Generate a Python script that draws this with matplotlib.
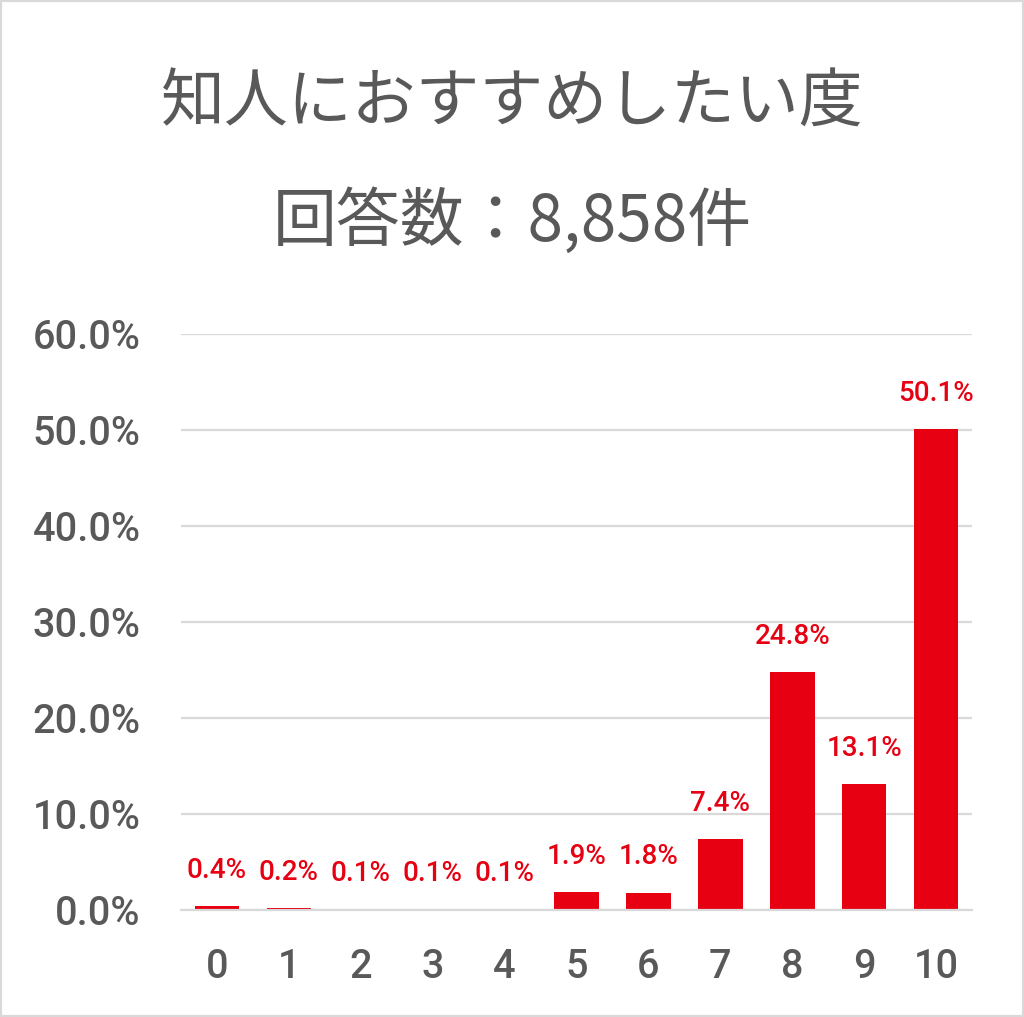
import matplotlib.pyplot as plt
from matplotlib.patches import Rectangle

# data
scores = ['0', '1', '2', '3', '4', '5', '6', '7', '8', '9', '10']
shares = [0.4, 0.2, 0.1, 0.1, 0.1, 1.9, 1.8, 7.4, 24.8, 13.1, 50.1]
yticks = [0, 10, 20, 30, 40, 50, 60]
title_1 = '知人におすすめしたい度'
title_2 = '回答数：8,858件'

RED = '#e60012'
GREY_TXT = '#595959'
GRID = '#d9d9d9'

plt.rcParams['font.family'] = ['Roboto', 'Noto Sans CJK JP', 'DejaVu Sans']

fig = plt.figure(figsize=(10.24, 10.17), dpi=100)
ax = fig.add_axes([181 / 1024, 1 - 910 / 1017, (972 - 181) / 1024, (910 - 334) / 1017])

x = range(len(scores))
bars = ax.bar(x, shares, width=0.62, color=RED, zorder=3)
for b, v in zip(bars, shares):
    ax.annotate(f'{v:.1f}%', (b.get_x() + b.get_width() / 2, b.get_height()),
                xytext=(0, 16), textcoords='offset points', ha='center', va='bottom',
                color=RED, fontsize=20, fontweight='medium')

ax.set_xlim(-0.5, len(scores) - 0.5)
ax.set_ylim(0, 60)
ax.set_yticks(yticks)
ax.set_yticklabels([f'{t:.1f}%' for t in yticks])
ax.set_xticks(list(x))
ax.set_xticklabels(scores)
ax.tick_params(axis='y', length=0, pad=29, labelsize=28.5, labelcolor=GREY_TXT)
ax.tick_params(axis='x', length=0, pad=27, labelsize=28.5, labelcolor=GREY_TXT)
for lab in ax.get_xticklabels() + ax.get_yticklabels():
    lab.set_fontweight('medium')
ax.grid(axis='y', color=GRID, linewidth=1.6, zorder=0)
for side in ['top', 'right', 'left']:
    ax.spines[side].set_visible(False)
ax.spines['bottom'].set_color(GRID)
ax.spines['bottom'].set_linewidth(1.6)
ax.spines['bottom'].set_zorder(4)

fig.text(0.5, 1 - 103 / 1017, title_1, ha='center', va='center', fontsize=46,
         color=GREY_TXT, family=['Noto Sans CJK JP', 'DejaVu Sans'])
fig.text(0.5, 1 - 222 / 1017, title_2, ha='center', va='center', fontsize=46,
         color=GREY_TXT, family=['Noto Sans CJK JP', 'DejaVu Sans'])

fig.patches.append(Rectangle((0, 0), 1, 1, transform=fig.transFigure, fill=False,
                             edgecolor=GRID, linewidth=3))

fig.savefig('out.png', dpi=100)
